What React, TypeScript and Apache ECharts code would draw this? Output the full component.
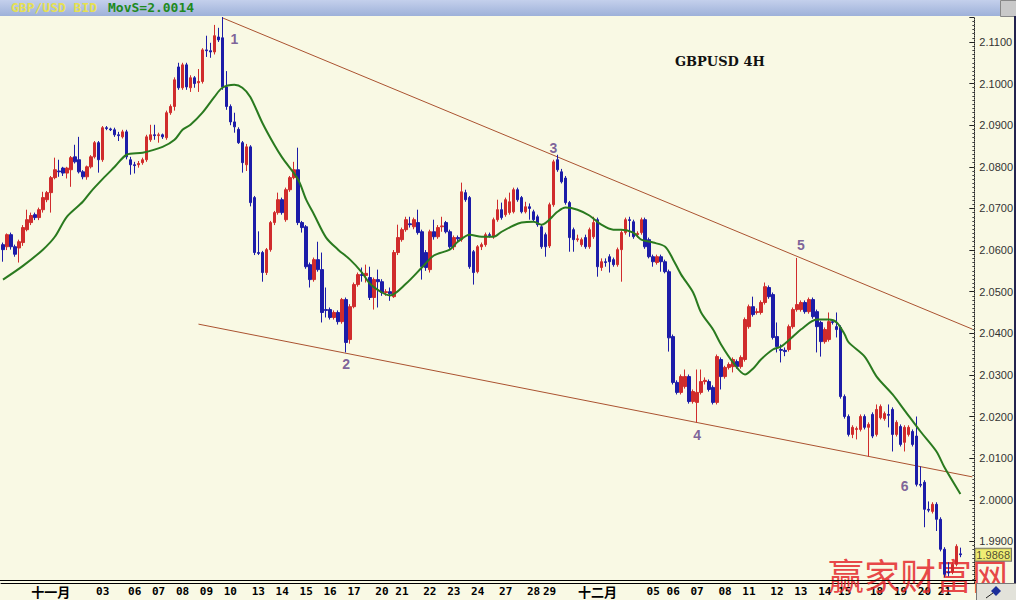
import React, { useEffect, useRef } from 'react';
import * as echarts from 'echarts';

// ---- OHLC bars (4H), each [open, close, low, high] ----
const barsA: number[][] = [
  [2.0613,2.0601,2.0572,2.0618],[2.0608,2.0637,2.0600,2.0640],[2.0637,2.0608,2.0601,2.0642],[2.0608,2.0590,2.0584,2.0613],
  [2.0605,2.0620,2.0570,2.0625],[2.0618,2.0654,2.0610,2.0660],[2.0649,2.0673,2.0645,2.0697],[2.0666,2.0683,2.0660,2.0690],
  [2.0685,2.0678,2.0672,2.0690],[2.0678,2.0697,2.0672,2.0702],[2.0697,2.0726,2.0690,2.0740],[2.0721,2.0738,2.0715,2.0742],
  [2.0738,2.0774,2.0690,2.0778],[2.0774,2.0793,2.0770,2.0822],[2.0790,2.0788,2.0776,2.0817],[2.0797,2.0785,2.0778,2.0800],
  [2.0785,2.0797,2.0772,2.0800],[2.0793,2.0822,2.0752,2.0826],[2.0824,2.0812,2.0808,2.0853],[2.0817,2.0788,2.0784,2.0872],
  [2.0788,2.0776,2.0770,2.0792],[2.0776,2.0800,2.0769,2.0803],[2.0800,2.0824,2.0796,2.0828],[2.0824,2.0858,2.0820,2.0862],
  [2.0858,2.0817,2.0786,2.0862],[2.0817,2.0894,2.0812,2.0898],[2.0894,2.0892,2.0888,2.0898],[2.0891,2.0889,2.0886,2.0894],
  [2.0889,2.0877,2.0872,2.0894],[2.0877,2.0875,2.0862,2.0884],[2.0872,2.0884,2.0868,2.0889],[2.0884,2.0824,2.0818,2.0889],
  [2.0817,2.0805,2.0781,2.0824],[2.0805,2.0803,2.0784,2.0812],[2.0805,2.0808,2.0798,2.0814],[2.0810,2.0817,2.0805,2.0822],
  [2.0817,2.0872,2.0812,2.0877],[2.0865,2.0877,2.0860,2.0901],[2.0877,2.0875,2.0865,2.0901],[2.0875,2.0877,2.0858,2.0882],
  [2.0877,2.0872,2.0867,2.0880],[2.0870,2.0930,2.0865,2.0935],[2.0930,2.0945,2.0925,2.0950],[2.0945,2.1009,2.0935,2.1015],
  [2.1040,2.0990,2.0985,2.1050],[2.0990,2.1045,2.0985,2.1050],[2.1045,2.0992,2.0985,2.1050],[2.0990,2.1014,2.0980,2.1020],
  [2.1014,2.1000,2.0990,2.1018],[2.1002,2.1005,2.0980,2.1035],[2.1005,2.1081,2.1000,2.1085],[2.1081,2.1079,2.1064,2.1115],
  [2.1079,2.1076,2.1062,2.1098],[2.1076,2.1115,2.1070,2.1141],[2.1112,2.1105,2.1100,2.1134],[2.1110,2.0992,2.0985,2.1160],
  [2.0992,2.0945,2.0937,2.1030],[2.0945,2.0908,2.0900,2.0950],[2.0908,2.0896,2.0882,2.0930],[2.0890,2.0858,2.0855,2.0895],
  [2.0858,2.0810,2.0786,2.0862],[2.0805,2.0848,2.0790,2.0855],[2.0848,2.0714,2.0705,2.0852],[2.0726,2.0594,2.0588,2.0730],
];
const barsB: number[][] = [
  [2.0594,2.0592,2.0588,2.0645],[2.0594,2.0546,2.0524,2.0598],[2.0546,2.0601,2.0540,2.0605],[2.0601,2.0666,2.0596,2.0670],
  [2.0666,2.0690,2.0660,2.0694],[2.0690,2.0721,2.0685,2.0738],[2.0721,2.0690,2.0685,2.0726],[2.0673,2.0745,2.0668,2.0750],
  [2.0745,2.0774,2.0740,2.0778],[2.0774,2.0793,2.0770,2.0812],[2.0793,2.0666,2.0660,2.0846],[2.0666,2.0654,2.0642,2.0670],
  [2.0656,2.0560,2.0555,2.0660],[2.0565,2.0529,2.0510,2.0570],[2.0529,2.0577,2.0524,2.0582],[2.0577,2.0553,2.0548,2.0620],
  [2.0553,2.0450,2.0426,2.0594],[2.0457,2.0455,2.0438,2.0510],[2.0457,2.0438,2.0433,2.0462],[2.0438,2.0450,2.0433,2.0455],
  [2.0450,2.0428,2.0421,2.0455],[2.0428,2.0481,2.0423,2.0485],[2.0481,2.0378,2.0354,2.0486],[2.0385,2.0464,2.0375,2.0470],
  [2.0464,2.0517,2.0460,2.0522],[2.0517,2.0541,2.0512,2.0546],[2.0541,2.0539,2.0524,2.0558],[2.0539,2.0544,2.0522,2.0565],
  [2.0534,2.0486,2.0480,2.0560],[2.0486,2.0529,2.0457,2.0534],[2.0529,2.0524,2.0462,2.0553],[2.0524,2.0498,2.0490,2.0530],
  [2.0498,2.0500,2.0490,2.0506],[2.0500,2.0495,2.0478,2.0510],[2.0488,2.0594,2.0485,2.0600],[2.0594,2.0630,2.0588,2.0661],
  [2.0625,2.0649,2.0620,2.0654],[2.0649,2.0673,2.0644,2.0680],[2.0663,2.0661,2.0654,2.0680],[2.0656,2.0673,2.0650,2.0678],
  [2.0666,2.0642,2.0637,2.0697],[2.0644,2.0560,2.0529,2.0649],[2.0594,2.0558,2.0550,2.0600],[2.0553,2.0644,2.0546,2.0649],
  [2.0644,2.0632,2.0625,2.0673],[2.0632,2.0654,2.0627,2.0660],[2.0656,2.0658,2.0644,2.0680],[2.0666,2.0644,2.0640,2.0670],
  [2.0644,2.0608,2.0603,2.0649],[2.0608,2.0630,2.0600,2.0635],[2.0630,2.0627,2.0618,2.0635],[2.0625,2.0740,2.0620,2.0762],
  [2.0738,2.0721,2.0716,2.0745],[2.0726,2.0560,2.0555,2.0730],[2.0596,2.0546,2.0517,2.0600],[2.0548,2.0608,2.0544,2.0612],
  [2.0608,2.0613,2.0600,2.0618],[2.0613,2.0637,2.0608,2.0642],[2.0637,2.0635,2.0630,2.0642],[2.0632,2.0673,2.0627,2.0678],
  [2.0673,2.0697,2.0668,2.0721],[2.0697,2.0678,2.0673,2.0714],[2.0685,2.0721,2.0680,2.0726],[2.0690,2.0716,2.0685,2.0738],
];
const barsC: number[][] = [
  [2.0692,2.0745,2.0688,2.0750],[2.0745,2.0721,2.0716,2.0750],[2.0726,2.0692,2.0688,2.0730],[2.0692,2.0704,2.0688,2.0716],
  [2.0704,2.0700,2.0673,2.0712],[2.0692,2.0673,2.0668,2.0697],[2.0680,2.0661,2.0656,2.0685],[2.0656,2.0608,2.0603,2.0661],
  [2.0637,2.0608,2.0584,2.0642],[2.0610,2.0709,2.0605,2.0714],[2.0709,2.0812,2.0704,2.0817],[2.0817,2.0793,2.0788,2.0829],
  [2.0788,2.0764,2.0760,2.0795],[2.0773,2.0714,2.0709,2.0778],[2.0714,2.0630,2.0596,2.0718],[2.0649,2.0625,2.0596,2.0654],
  [2.0625,2.0627,2.0620,2.0637],[2.0613,2.0625,2.0608,2.0630],[2.0630,2.0608,2.0603,2.0637],[2.0608,2.0649,2.0603,2.0654],
  [2.0632,2.0666,2.0627,2.0680],[2.0673,2.0560,2.0536,2.0678],[2.0558,2.0572,2.0550,2.0580],[2.0572,2.0570,2.0560,2.0580],
  [2.0584,2.0572,2.0546,2.0590],[2.0577,2.0565,2.0560,2.0582],[2.0565,2.0601,2.0560,2.0606],[2.0601,2.0642,2.0524,2.0647],
  [2.0642,2.0673,2.0637,2.0678],[2.0673,2.0671,2.0632,2.0680],[2.0668,2.0632,2.0627,2.0673],[2.0637,2.0640,2.0630,2.0645],
  [2.0642,2.0673,2.0637,2.0678],[2.0673,2.0608,2.0603,2.0678],[2.0625,2.0584,2.0580,2.0630],[2.0584,2.0572,2.0560,2.0589],
  [2.0570,2.0584,2.0565,2.0589],[2.0584,2.0572,2.0548,2.0589],[2.0572,2.0548,2.0544,2.0577],[2.0548,2.0389,2.0356,2.0553],
  [2.0392,2.0282,2.0277,2.0397],[2.0282,2.0258,2.0253,2.0287],[2.0258,2.0296,2.0253,2.0301],[2.0272,2.0296,2.0267,2.0313],
  [2.0296,2.0236,2.0231,2.0301],[2.0236,2.0260,2.0231,2.0265],[2.0234,2.0258,2.0186,2.0313],[2.0258,2.0284,2.0253,2.0313],
  [2.0284,2.0287,2.0277,2.0294],[2.0284,2.0265,2.0260,2.0289],[2.0270,2.0234,2.0229,2.0275],[2.0234,2.0344,2.0229,2.0349],
  [2.0337,2.0296,2.0265,2.0342],[2.0296,2.0318,2.0291,2.0322],[2.0318,2.0325,2.0313,2.0330],[2.0320,2.0337,2.0306,2.0342],
  [2.0332,2.0320,2.0315,2.0337],[2.0320,2.0342,2.0315,2.0347],[2.0337,2.0433,2.0332,2.0438],[2.0416,2.0464,2.0411,2.0469],
  [2.0464,2.0445,2.0440,2.0488],[2.0450,2.0452,2.0445,2.0460],[2.0450,2.0474,2.0445,2.0479],[2.0474,2.0512,2.0469,2.0522],
];
const barsD: number[][] = [
  [2.0510,2.0488,2.0483,2.0515],[2.0493,2.0390,2.0385,2.0498],[2.0392,2.0368,2.0354,2.0426],[2.0361,2.0359,2.0330,2.0373],
  [2.0359,2.0356,2.0345,2.0366],[2.0361,2.0416,2.0356,2.0421],[2.0416,2.0457,2.0411,2.0462],[2.0457,2.0469,2.0452,2.0581],
  [2.0457,2.0474,2.0452,2.0479],[2.0474,2.0452,2.0447,2.0479],[2.0452,2.0481,2.0447,2.0486],[2.0481,2.0440,2.0435,2.0486],
  [2.0452,2.0416,2.0354,2.0457],[2.0426,2.0380,2.0344,2.0430],[2.0380,2.0409,2.0375,2.0414],[2.0385,2.0428,2.0380,2.0450],
  [2.0428,2.0426,2.0421,2.0433],[2.0416,2.0409,2.0390,2.0450],[2.0414,2.0248,2.0243,2.0419],[2.0248,2.0200,2.0195,2.0253],
  [2.0200,2.0157,2.0152,2.0205],[2.0157,2.0174,2.0148,2.0179],[2.0169,2.0171,2.0145,2.0176],[2.0169,2.0200,2.0164,2.0205],
  [2.0200,2.0174,2.0169,2.0205],[2.0174,2.0181,2.0104,2.0186],[2.0205,2.0153,2.0148,2.0210],[2.0157,2.0217,2.0152,2.0229],
  [2.0197,2.0224,2.0193,2.0229],[2.0195,2.0207,2.0190,2.0212],[2.0205,2.0203,2.0174,2.0229],[2.0217,2.0157,2.0116,2.0222],
  [2.0157,2.0186,2.0152,2.0191],[2.0176,2.0133,2.0128,2.0181],[2.0138,2.0174,2.0116,2.0179],[2.0157,2.0174,2.0152,2.0179],
  [2.0164,2.0133,2.0128,2.0169],[2.0153,2.0037,2.0032,2.0200],[2.0037,2.0035,2.0030,2.0080],[2.0042,1.9977,1.9934,2.0047],
  [1.9977,1.9975,1.9970,1.9996],[1.9972,1.9989,1.9967,1.9994],[1.9989,1.9953,1.9925,1.9994],[1.9953,1.9881,1.9876,1.9958],
  [1.9881,1.9821,1.9814,1.9886],[1.9826,1.9824,1.9816,1.9850],[1.9826,1.9845,1.9821,1.9850],[1.9845,1.9888,1.9840,1.9893],
  [1.9870,1.9868,1.9862,1.9885],
];

// ---- Moving average (MovS) read at bar indices ----
const maIndex = [0,5,10,13,16,20,22,25,28,31,35,40,43,45,47,50,53,55,58,60,62,65,68,70,74,76,78,81,84,87,90,92,95,97,101,105,108,112,114,117,120,123,125,128,130,133,135,139,141,144,147,150,153,155,158,160,163,166,168,170,173,175,178,180,183,186,188,190,193,195,198,200,204,207,209,211,212,216,219,223,226,230,234,236,240];
const maValue = [2.0529,2.0562,2.0601,2.0632,2.0680,2.0716,2.0740,2.0771,2.0800,2.0829,2.0834,2.0848,2.0865,2.0889,2.0901,2.0930,2.0968,2.0990,2.0997,2.0990,2.0968,2.0906,2.0853,2.0822,2.0769,2.0721,2.0685,2.0630,2.0601,2.0577,2.0546,2.0519,2.0498,2.0491,2.0519,2.0558,2.0587,2.0601,2.0620,2.0637,2.0632,2.0632,2.0644,2.0659,2.0666,2.0668,2.0661,2.0692,2.0702,2.0697,2.0683,2.0661,2.0649,2.0649,2.0642,2.0625,2.0618,2.0608,2.0577,2.0541,2.0498,2.0450,2.0409,2.0373,2.0330,2.0301,2.0315,2.0337,2.0361,2.0368,2.0392,2.0409,2.0433,2.0433,2.0426,2.0397,2.0378,2.0344,2.0296,2.0253,2.0215,2.0164,2.0116,2.0078,2.0014];

// ---- Trend lines (index, price) ----
const upperTrend = [[55, 2.1158], [243, 2.0410]];
const lowerTrend = [[49, 2.0422], [243, 2.0055]];

// ---- Wave labels ----
const waveNames = ['1', '2', '3', '4', '5', '6'];
const waveIndex = [58, 86, 138, 174, 200, 226];
const wavePrice = [2.1107, 2.0326, 2.0845, 2.0156, 2.0613, 2.0032];

// ---- X axis day labels ----
const dayLabels = ['十一月','03','06','07','08','09','10','13','14','15','16','17','20','21','22','23','24','27','28','29','十二月','05','06','07','08','11','12','13','14','15','18','19','20','21'];
const dayIndex = [12,25,33,39,45,51,57,64,70,76,82,88,95,100,107,113,119,126,133,137,149,163,168,174,181,187,194,200,206,211,219,225,231,236];

const N = 244;

export default function App() {
  const ref = useRef<HTMLDivElement>(null);
  useEffect(() => {
    const bars = [...barsA, ...barsB, ...barsC, ...barsD];
    const lastClose = bars[bars.length - 1][1];
    const maLast = maValue[maValue.length - 1];
    const categories = Array.from({ length: N }, (_, i) => String(i));
    const labelAt: Record<number, string> = {};
    dayIndex.forEach((ix, k) => { labelAt[ix] = dayLabels[k]; });
    const chart = echarts.init(ref.current!, null, { renderer: 'svg' });
    const option: any = {
      animation: false,
      backgroundColor: '#F9F9E4',
      grid: { left: 0, right: 40, top: 17, bottom: 17 },
      xAxis: {
        type: 'category',
        data: categories,
        boundaryGap: true,
        axisLine: { lineStyle: { color: '#000', width: 1 } },
        axisTick: { show: false },
        splitLine: { show: false },
        axisLabel: {
          interval: 0,
          margin: 2,
          formatter: (_v: string, idx: number) => {
            const t = labelAt[idx];
            if (!t) return '';
            return /月/.test(t) ? `{cn|${t}}` : `{d|${t}}`;
          },
          rich: {
            d: { fontFamily: 'DejaVu Sans Mono', fontWeight: 'bold', fontSize: 11, lineHeight: 13, color: '#000' },
            cn: { fontFamily: 'Noto Sans CJK SC', fontSize: 13, lineHeight: 13, color: '#000', fontWeight: 'bold' },
          },
        },
      },
      yAxis: {
        type: 'value',
        position: 'right',
        min: 1.98,
        max: 2.116,
        interval: 0.01,
        splitLine: { show: false },
        axisLine: { show: true, lineStyle: { color: '#222', type: 'dotted', width: 1 } },
        axisTick: { show: true, inside: true, length: 5, lineStyle: { color: '#222' } },
        minorTick: { show: true, splitNumber: 10, length: 2, lineStyle: { color: '#444' } },
        axisLabel: {
          showMaxLabel: false,
          margin: 5,
          color: '#333',
          fontFamily: 'Liberation Sans',
          fontSize: 11,
          formatter: (v: number) => (v < 1.985 || v > 2.112 ? '' : v.toFixed(4)),
        },
      },
      series: [
        {
          type: 'candlestick',
          data: bars,
          barWidth: 3,
          itemStyle: {
            color: '#D02C2C', color0: '#1C1CA8',
            borderColor: '#D02C2C', borderColor0: '#1C1CA8', borderWidth: 1,
          },
          z: 3,
        },
        {
          type: 'line',
          data: maIndex.map((ix, k) => [ix, maValue[k]]),
          showSymbol: false,
          smooth: 0.3,
          lineStyle: { color: '#2A7A1F', width: 2 },
          z: 4,
        },
        {
          type: 'line',
          data: upperTrend,
          showSymbol: false,
          lineStyle: { color: '#AA5230', width: 1 },
          z: 2,
        },
        {
          type: 'line',
          data: lowerTrend,
          showSymbol: false,
          lineStyle: { color: '#AA5230', width: 1 },
          z: 2,
        },
        {
          type: 'scatter',
          symbolSize: 0,
          data: waveNames.map((n, k) => ({ name: n, value: [waveIndex[k], wavePrice[k]] })),
          label: {
            show: true,
            position: 'inside',
            formatter: (p: any) => p.name,
            color: '#5E3C86',
            fontFamily: 'Liberation Sans',
            fontWeight: 'bold',
            fontSize: 14,
          },
          z: 5,
        },
        {
          type: 'scatter',
          symbolSize: 0,
          silent: true,
          data: [[N - 1, lastClose]],
          label: {
            show: true,
            position: 'right',
            distance: 3,
            formatter: () => lastClose.toFixed(4),
            backgroundColor: '#EEEA58',
            borderColor: '#555',
            borderWidth: 1,
            padding: [1, 1, 0, 1],
            color: '#222',
            fontFamily: 'Liberation Sans',
            fontSize: 11,
          },
          z: 30,
        },
      ],
      graphic: [
        {
          type: 'rect', left: 0, top: 0, z: 10,
          shape: { width: 1000, height: 16 },
          style: {
            fill: new echarts.graphic.LinearGradient(0, 0, 0, 1, [
              { offset: 0, color: '#C4D0EC' }, { offset: 1, color: '#9EB1D9' },
            ]),
          },
        },
        {
          type: 'rect', left: 1000, top: 0, z: 10,
          shape: { width: 16, height: 16 },
          style: { fill: '#C9C9C9', stroke: '#888', lineWidth: 1 },
        },
        {
          type: 'text', left: 11, top: 1, z: 11,
          style: { text: 'GBP/USD BID', fill: '#E6E052', font: 'bold 13px "DejaVu Sans Mono"' },
        },
        {
          type: 'text', left: 108, top: 1, z: 11,
          style: { text: `MovS=${maLast.toFixed(4)}`, fill: '#1E8A1E', font: 'bold 13px "DejaVu Sans Mono"' },
        },
        {
          type: 'text', left: 675, top: 55, z: 11,
          style: { text: 'GBPUSD 4H', fill: '#111', font: 'bold 13px "DejaVu Serif"' },
        },
        {
          type: 'line', z: 11,
          shape: { x1: 0, y1: 580.5, x2: 976, y2: 580.5 },
          style: { stroke: '#000', lineWidth: 1 },
        },
        {
          type: 'rect', left: 976, top: 583, z: 11,
          shape: { width: 40, height: 17 },
          style: { fill: '#E2E2DA', stroke: '#777', lineWidth: 1 },
        },
        {
          type: 'polygon', z: 12,
          shape: { points: [[996, 586], [1001, 591], [996, 596], [991, 591]] },
          style: { fill: '#1C2E9A' },
        },
        {
          type: 'line', z: 12,
          shape: { x1: 986, y1: 598, x2: 993, y2: 593 },
          style: { stroke: '#222', lineWidth: 1 },
        },
        {
          type: 'rect', left: 1014, top: 16, z: 11,
          shape: { width: 2, height: 567 },
          style: { fill: '#23234E' },
        },
        {
          type: 'text', left: 828, top: 556, z: 1,
          style: { text: '赢家财富网', fill: '#E4282C', opacity: 0.85, font: '36px "Noto Sans CJK SC"' },
        },
      ],
    };
    chart.setOption(option);
    return () => chart.dispose();
  }, []);
  return <div ref={ref} style={{ position: 'fixed', left: 0, top: 0, width: 1016, height: 600 }} />;
}
